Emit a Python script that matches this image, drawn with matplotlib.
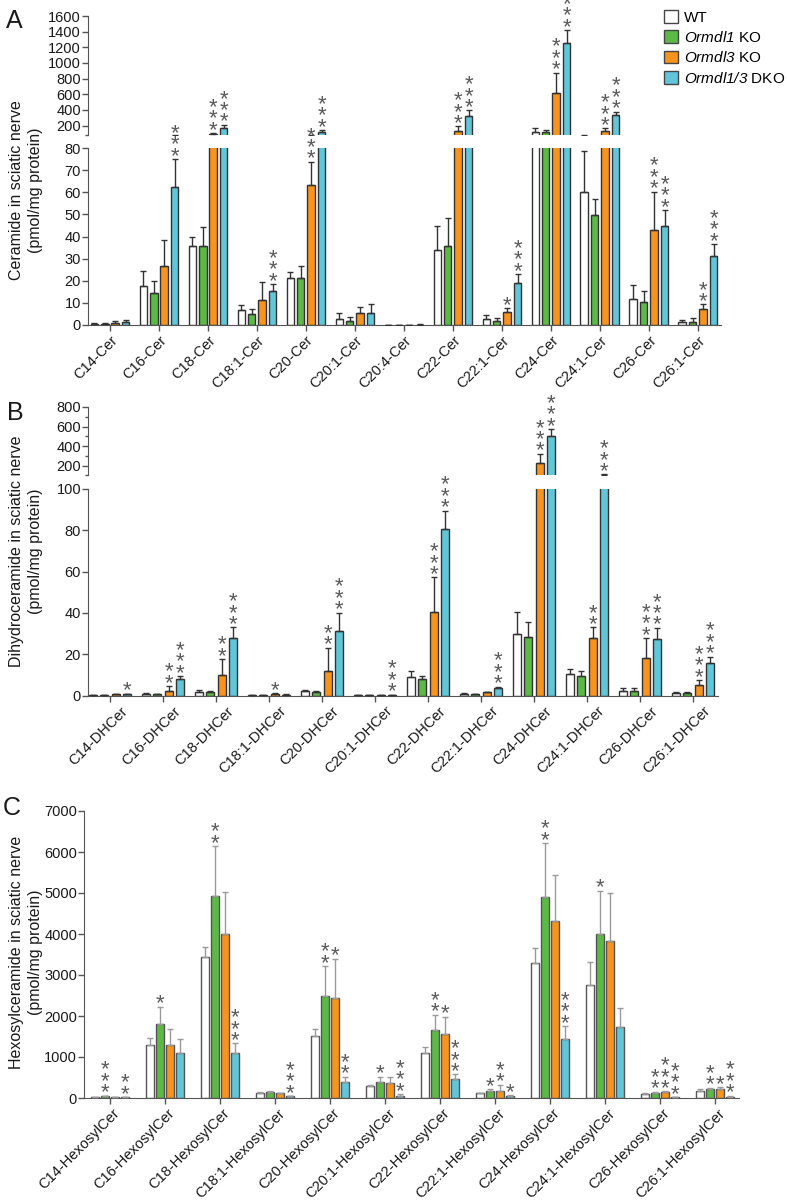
import matplotlib
matplotlib.use('Agg')
import matplotlib.pyplot as plt
import numpy as np
from matplotlib.patches import Patch
from matplotlib.ticker import MultipleLocator, FixedLocator
from matplotlib.transforms import ScaledTranslation

plt.rcParams['font.family'] = 'Liberation Sans'
plt.rcParams['mathtext.fontset'] = 'custom'
plt.rcParams['mathtext.it'] = 'Liberation Sans:italic'
plt.rcParams['mathtext.rm'] = 'Liberation Sans:italic'

series_labels = ['WT', r'$\it{Ormdl1}$ KO', r'$\it{Ormdl3}$ KO', r'$\it{Ormdl1/3}$ DKO']
series_colors = ['#ffffff', '#5cb946', '#f7941e', '#62c6d9']

# ---- Panel A: ceramide ----
cer_labels = ['C14-Cer', 'C16-Cer', 'C18-Cer', 'C18:1-Cer', 'C20-Cer', 'C20:1-Cer', 'C20:4-Cer',
              'C22-Cer', 'C22:1-Cer', 'C24-Cer', 'C24:1-Cer', 'C26-Cer', 'C26:1-Cer']
cer_wt = [0.6, 17.6, 35.7, 6.8, 21.1, 2.6, 0.1, 33.9, 2.6, 123, 60.3, 11.8, 1.2]
cer_wt_err = [0.3, 6.8, 3.9, 2.2, 3.0, 3.0, 0.0, 11.0, 1.8, 42, 18.3, 6.3, 1.1]
cer_ko1 = [0.5, 14.6, 35.7, 4.8, 21.4, 1.9, 0.1, 35.9, 1.8, 115, 49.7, 10.5, 1.5]
cer_ko1_err = [0.6, 5.4, 8.7, 2.4, 5.4, 1.6, 0.0, 12.3, 1.2, 30, 7.2, 5.0, 1.8]
cer_ko3 = [0.9, 26.7, 95, 11.3, 63.3, 5.6, 0.1, 136, 6.0, 620, 136, 42.9, 7.1]
cer_ko3_err = [0.8, 11.7, 8, 8.3, 10.5, 2.4, 0.0, 55, 1.5, 257, 29, 17.4, 2.2]
cer_dko = [1.2, 62.5, 165, 15.5, 123, 5.3, 0.2, 328, 19.1, 1250, 337, 44.7, 31.3]
cer_dko_err = [1.2, 12.4, 44, 3.0, 22, 4.2, 0.1, 65, 3.9, 171, 43, 7.3, 5.3]
cer_stars_ko1 = [0] * 13
cer_stars_ko3 = [0, 0, 3, 0, 3, 0, 0, 3, 1, 3, 3, 3, 2]
cer_stars_dko = [0, 3, 3, 3, 3, 0, 0, 3, 3, 3, 3, 3, 3]

# ---- Panel B: dihydroceramide ----
dh_labels = ['C14-DHCer', 'C16-DHCer', 'C18-DHCer', 'C18:1-DHCer', 'C20-DHCer', 'C20:1-DHCer',
             'C22-DHCer', 'C22:1-DHCer', 'C24-DHCer', 'C24:1-DHCer', 'C26-DHCer', 'C26:1-DHCer']
dh_wt = [0.2, 0.7, 1.8, 0.3, 2.2, 0.1, 8.8, 0.8, 29.8, 10.4, 2.3, 1.0]
dh_wt_err = [0.1, 0.3, 0.9, 0.1, 0.5, 0.05, 3.1, 0.3, 10.8, 2.6, 1.5, 0.5]
dh_ko1 = [0.2, 0.6, 1.8, 0.3, 1.8, 0.1, 8.1, 0.5, 28.5, 9.4, 2.2, 1.0]
dh_ko1_err = [0.1, 0.3, 0.4, 0.1, 0.3, 0.05, 1.3, 0.2, 7.1, 2.6, 1.3, 0.8]
dh_ko3 = [0.5, 2.3, 9.9, 0.8, 11.9, 0.2, 40.6, 1.5, 227, 27.7, 18.0, 5.1]
dh_ko3_err = [0.3, 2.3, 7.8, 0.4, 11.3, 0.1, 16.6, 0.4, 95, 5.3, 9.7, 2.4]
dh_dko = [0.5, 8.0, 27.7, 0.4, 31.4, 0.3, 80.5, 3.5, 505, 109, 27.4, 15.6]
dh_dko_err = [0.3, 1.4, 5.3, 0.2, 8.7, 0.1, 9.0, 0.8, 70, 2, 5.4, 3.2]
dh_stars_ko1 = [0] * 12
dh_stars_ko3 = [0, 2, 2, 1, 2, 0, 3, 0, 3, 2, 3, 3]
dh_stars_dko = [1, 3, 3, 0, 3, 3, 3, 3, 3, 3, 3, 3]

# ---- Panel C: hexosylceramide ----
hex_labels = ['C14-HexosylCer', 'C16-HexosylCer', 'C18-HexosylCer', 'C18:1-HexosylCer',
              'C20-HexosylCer', 'C20:1-HexosylCer', 'C22-HexosylCer', 'C22:1-HexosylCer',
              'C24-HexosylCer', 'C24:1-HexosylCer', 'C26-HexosylCer', 'C26:1-HexosylCer']
hex_wt = [20, 1290, 3438, 120, 1509, 292, 1103, 113, 3301, 2749, 90, 170]
hex_wt_err = [8, 178, 243, 15, 162, 28, 130, 17, 356, 567, 40, 49]
hex_ko1 = [42, 1817, 4939, 150, 2481, 397, 1655, 178, 4899, 3990, 113, 227]
hex_ko1_err = [15, 405, 1200, 30, 738, 122, 381, 41, 1321, 1070, 41, 24]
hex_ko3 = [22, 1290, 4007, 115, 2449, 373, 1549, 178, 4307, 3827, 138, 211]
hex_ko3_err = [5, 405, 1013, 15, 949, 130, 430, 146, 1135, 1177, 25, 49]
hex_dko = [15, 1087, 1087, 40, 397, 57, 454, 57, 1428, 1735, 15, 16]
hex_dko_err = [5, 348, 243, 10, 122, 40, 122, 16, 324, 462, 10, 40]
hex_stars_ko1 = [3, 1, 2, 0, 2, 1, 2, 1, 2, 1, 2, 2]
hex_stars_ko3 = [0, 0, 0, 0, 1, 0, 1, 2, 0, 0, 3, 1]
hex_stars_dko = [2, 0, 3, 3, 2, 3, 3, 1, 3, 0, 3, 3]

W, H = 787, 1201
AXIS_COLOR = '#555555'
STAR_COLOR = '#5a5a5a'


def px_rect(left, top, right, bottom):
    return [left / W, 1 - bottom / H, (right - left) / W, (bottom - top) / H]


def style_axis(ax, xaxis=True):
    for s in ['top', 'right']:
        ax.spines[s].set_visible(False)
    ax.spines['left'].set_color(AXIS_COLOR)
    ax.spines['bottom'].set_color(AXIS_COLOR)
    ax.tick_params(axis='both', which='both', colors=AXIS_COLOR, labelcolor='#1a1a1a',
                   direction='out', labelsize=10.5, width=1)
    ax.tick_params(axis='y', which='major', length=4, pad=1)
    ax.tick_params(axis='y', which='minor', length=2.5)
    if xaxis:
        ax.tick_params(axis='x', length=4, pad=2)
    else:
        ax.spines['bottom'].set_visible(False)
        ax.tick_params(axis='x', which='both', bottom=False, labelbottom=False)


def draw_bars(ax, values, errors, spacing, width, edge, err_color):
    x = np.arange(len(values[0]))
    for i in range(4):
        xs = x + (i - 1.5) * spacing
        ax.bar(xs, values[i], width, color=series_colors[i], edgecolor=edge, linewidth=1, zorder=2)
        ax.errorbar(xs, values[i], yerr=[np.zeros(len(xs)), errors[i]], fmt='none',
                    ecolor=err_color, elinewidth=1, capsize=2.2, capthick=1, zorder=3)


def draw_stars(ax_low, ax_high, split, values, errors, stars, spacing):
    # one stacked text per bar: stars sit one above another
    for i in range(1, 4):
        for j, n in enumerate(stars[i - 1]):
            if n == 0:
                continue
            top = values[i][j] + errors[i][j]
            ax = ax_high if (ax_high is not None and top > split) else ax_low
            ax.annotate('\n'.join(['*'] * n), xy=(j + (i - 1.5) * spacing, top),
                        xytext=(0, -2), textcoords='offset points',
                        ha='center', va='baseline', fontsize=16, color=STAR_COLOR,
                        linespacing=0.4, annotation_clip=False)


def set_xlabels(ax, labels, dx_px):
    ax.set_xticks(np.arange(len(labels)))
    ax.set_xticklabels(labels, rotation=45, ha='right', va='top', rotation_mode='anchor')
    offset = ScaledTranslation(dx_px / 100, 0, ax.figure.dpi_scale_trans)
    for lab in ax.get_xticklabels():
        lab.set_transform(lab.get_transform() + offset)


fig = plt.figure(figsize=(7.87, 12.01), dpi=100)

# Panel A
axA_top = fig.add_axes(px_rect(88, 16, 721, 135))
axA = fig.add_axes(px_rect(88, 148, 721, 325))
valsA = [cer_wt, cer_ko1, cer_ko3, cer_dko]
errsA = [cer_wt_err, cer_ko1_err, cer_ko3_err, cer_dko_err]
for ax in (axA_top, axA):
    draw_bars(ax, valsA, errsA, 0.214, 0.153, '#333333', '#333333')
    ax.set_xlim(-0.449, 12.47)
axA.set_ylim(0, 80)
axA.yaxis.set_major_locator(MultipleLocator(10))
axA_top.set_ylim(80, 1600)
axA_top.yaxis.set_major_locator(FixedLocator([200, 400, 600, 800, 1000, 1200, 1400, 1600]))
axA_top.yaxis.set_minor_locator(FixedLocator([80]))
style_axis(axA_top, xaxis=False)
style_axis(axA)
set_xlabels(axA, cer_labels, 0)
draw_stars(axA, axA_top, 80, valsA, errsA, [cer_stars_ko1, cer_stars_ko3, cer_stars_dko], 0.214)

# Panel B
axB_top = fig.add_axes(px_rect(88, 407, 718, 475.5))
axB = fig.add_axes(px_rect(88, 489, 718, 695.5))
valsB = [dh_wt, dh_ko1, dh_ko3, dh_dko]
errsB = [dh_wt_err, dh_ko1_err, dh_ko3_err, dh_dko_err]
for ax in (axB_top, axB):
    draw_bars(ax, valsB, errsB, 0.213, 0.151, '#333333', '#333333')
    ax.set_xlim(-0.415, 11.47)
axB.set_ylim(0, 100)
axB.yaxis.set_major_locator(MultipleLocator(20))
axB_top.set_ylim(100, 800)
axB_top.yaxis.set_major_locator(FixedLocator([200, 400, 600, 800]))
axB_top.yaxis.set_minor_locator(FixedLocator([100, 300, 500, 700]))
style_axis(axB_top, xaxis=False)
style_axis(axB)
set_xlabels(axB, dh_labels, 10)
draw_stars(axB, axB_top, 100, valsB, errsB, [dh_stars_ko1, dh_stars_ko3, dh_stars_dko], 0.213)

# Panel C
axC = fig.add_axes(px_rect(84, 811, 739, 1098))
valsC = [hex_wt, hex_ko1, hex_ko3, hex_dko]
errsC = [hex_wt_err, hex_ko1_err, hex_ko3_err, hex_dko_err]
draw_bars(axC, valsC, errsC, 0.182, 0.15, '#555555', '#9a9a9a')
axC.set_xlim(-0.47, 11.44)
axC.set_ylim(0, 7000)
axC.yaxis.set_major_locator(MultipleLocator(1000))
style_axis(axC)
set_xlabels(axC, hex_labels, 3)
draw_stars(axC, None, None, valsC, errsC, [hex_stars_ko1, hex_stars_ko3, hex_stars_dko], 0.182)

# y labels and panel letters
ylab_kw = dict(rotation=90, ha='center', va='center', fontsize=11.5, linespacing=1.3,
               multialignment='center', color='#1a1a1a')
fig.text(26 / W, 1 - 190 / H, 'Ceramide in sciatic nerve\n(pmol/mg protein)', **ylab_kw)
fig.text(26 / W, 1 - 551 / H, 'Dihydroceramide in sciatic nerve\n(pmol/mg protein)', **ylab_kw)
fig.text(26 / W, 1 - 952 / H, 'Hexosylceramide in sciatic nerve\n(pmol/mg protein)', **ylab_kw)
for letter, lx, ly in [('A', 6, 28), ('B', 7, 420), ('C', 3, 815)]:
    fig.text(lx / W, 1 - ly / H, letter, fontsize=18, va='baseline', ha='left', color='#1a1a1a')

# legend
handles = [Patch(facecolor=c, edgecolor='#444444', linewidth=1) for c in series_colors]
fig.legend(handles, series_labels, loc='upper left', bbox_to_anchor=(664 / W, 1 - 10 / H),
           frameon=False, fontsize=11, handlelength=0.9, handleheight=0.9,
           handletextpad=0.4, labelspacing=0.35, borderpad=0, borderaxespad=0)

fig.savefig('out.png', dpi=100)
